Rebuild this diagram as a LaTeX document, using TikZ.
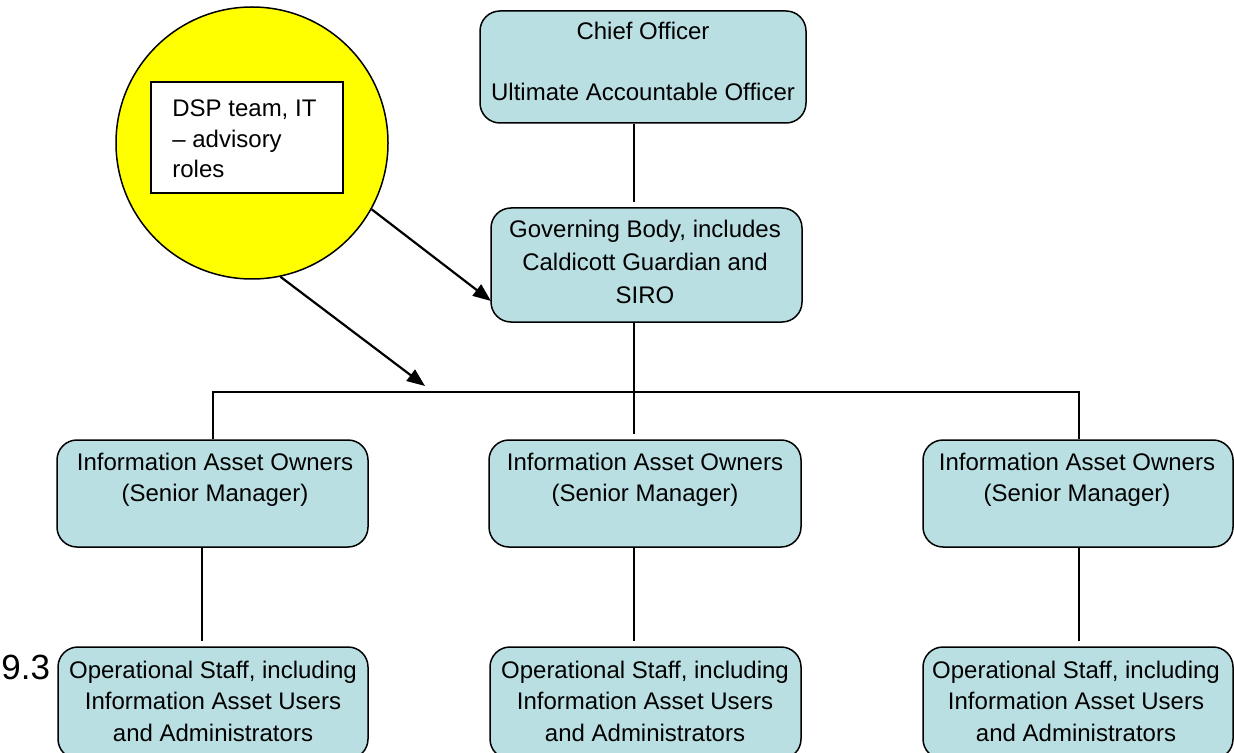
\documentclass[tikz,border=0pt]{standalone}
\usepackage{fontspec}
\setmainfont{Liberation Sans}
\usetikzlibrary{arrows.meta}
\definecolor{boxfill}{RGB}{185,223,226}
\definecolor{advyellow}{RGB}{255,255,0}
\begin{document}
\begin{tikzpicture}[x=0.5pt,y=-0.5pt,
  box/.style={draw=black, line width=0.75pt, fill=boxfill, rounded corners=10pt, inner sep=0pt},
  txt/.style={inner sep=0pt, anchor=base, font=\fontsize{12pt}{15.75pt}\selectfont},
  link/.style={line width=0.8pt},
  bus/.style={line width=1pt},
  arr/.style={line width=1.1pt, -{Triangle[length=9pt,width=7pt]}}]
\useasboundingbox (0,0) rectangle (1234,753);
\clip (0,0) rectangle (1234,753);

% advisory circle
\node[draw=black, circle, fill=advyellow, minimum size=136pt, inner sep=0pt, line width=0.75pt] (circ) at (252,143) {};
\node[draw=black, fill=white, line width=0.75pt, minimum width=96pt, minimum height=55.5pt, inner sep=0pt] (dsp) at (247,137.5) {};
\node[txt, anchor=base west, font=\fontsize{12pt}{15.25pt}\selectfont] (dspt) at (172,117)
  {\begin{tabular}[t]{@{}l@{}}DSP team, IT\\– advisory\\roles\end{tabular}};

% top boxes
\node[box, minimum width=163pt, minimum height=56pt] (chief) at (643,67) {};
\node[txt, font=\fontsize{12pt}{15.25pt}\selectfont] (chieft) at (643,40)
  {\begin{tabular}[t]{@{}c@{}}Chief Officer\\ \\ Ultimate Accountable Officer\end{tabular}};
\node[box, minimum width=155.5pt, minimum height=57pt] (gov) at (646.5,265) {};
\node[txt, font=\fontsize{12pt}{16.25pt}\selectfont] (govt) at (645,238)
  {\begin{tabular}[t]{@{}c@{}}Governing Body, includes\\Caldicott Guardian and\\SIRO\end{tabular}};

% information asset owners
\node[box, minimum width=155.5pt, minimum height=53.5pt] (iao1) at (212.5,493.5) {};
\node[box, minimum width=156pt, minimum height=53.5pt] (iao2) at (645,493.5) {};
\node[box, minimum width=155pt, minimum height=53.5pt] (iao3) at (1078,493.5) {};
\node[txt] (iao1t) at (215,470) {\begin{tabular}[t]{@{}c@{}}Information Asset Owners\\(Senior Manager)\end{tabular}};
\node[txt] (iao2t) at (645,470) {\begin{tabular}[t]{@{}c@{}}Information Asset Owners\\(Senior Manager)\end{tabular}};
\node[txt] (iao3t) at (1077,470) {\begin{tabular}[t]{@{}c@{}}Information Asset Owners\\(Senior Manager)\end{tabular}};

% operational staff
\node[box, minimum width=155pt, minimum height=56pt] (op1) at (213,703) {};
\node[box, minimum width=155.5pt, minimum height=56pt] (op2) at (645.5,703) {};
\node[box, minimum width=155pt, minimum height=56pt] (op3) at (1078,703) {};
\node[txt] (op1t) at (213,678) {\begin{tabular}[t]{@{}c@{}}Operational Staff, including\\Information Asset Users\\and Administrators\end{tabular}};
\node[txt] (op2t) at (645,678) {\begin{tabular}[t]{@{}c@{}}Operational Staff, including\\Information Asset Users\\and Administrators\end{tabular}};
\node[txt] (op3t) at (1076,678) {\begin{tabular}[t]{@{}c@{}}Operational Staff, including\\Information Asset Users\\and Administrators\end{tabular}};

\node[inner sep=0pt, anchor=base west, font=\fontsize{17.5pt}{20pt}\selectfont] (num) at (1,679) {9.3};

% connector x positions
\coordinate (busL) at (213,392);
\coordinate (busM) at (634,392);
\coordinate (busR) at (1079,392);
\coordinate (low1) at (202,600);

\draw[link, shorten >=2.5pt] (chief.south -| busM) -- (gov.north -| busM);
\draw[link] (gov.south -| busM) -- (busM);
\draw[bus] ([xshift=-0.5pt]busL) -- ([xshift=0.5pt]busR);
\draw[link] (busL) -- (iao1.north -| busL);
\draw[link, shorten >=2.5pt] (busM) -- (iao2.north -| busM);
\draw[link] (busR) -- (iao3.north -| busR);
\draw[link, shorten >=2.5pt] (iao1.south -| low1) -- (op1.north -| low1);
\draw[link, shorten >=2.5pt] (iao2.south -| busM) -- (op2.north -| busM);
\draw[link, shorten >=2.5pt] (iao3.south -| busR) -- (op3.north -| busR);

% advisory arrows
\coordinate (a1e) at (491,301);
\coordinate (a2e) at (425,386);
\draw[arr] (circ.-29) -- (a1e);
\draw[arr] (circ.-78) -- (a2e);
\end{tikzpicture}
\end{document}
